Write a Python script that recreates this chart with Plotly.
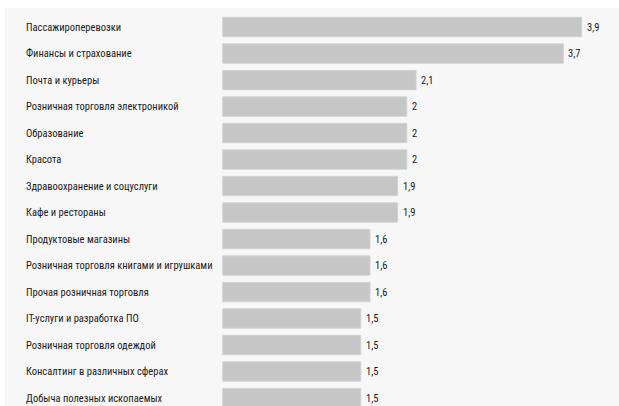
import plotly.graph_objects as go

categories = [
    "Пассажироперевозки",
    "Финансы и страхование",
    "Почта и курьеры",
    "Розничная торговля электроникой",
    "Образование",
    "Красота",
    "Здравоохранение и соцуслуги",
    "Кафе и рестораны",
    "Продуктовые магазины",
    "Розничная торговля книгами и игрушками",
    "Прочая розничная торговля",
    "IT-услуги и разработка ПО",
    "Розничная торговля одеждой",
    "Консалтинг в различных сферах",
    "Добыча полезных ископаемых",
]
values = [3.9, 3.7, 2.1, 2, 2, 2, 1.9, 1.9, 1.6, 1.6, 1.6, 1.5, 1.5, 1.5, 1.5]
value_labels = [("%g" % v).replace(".", ",") for v in values]

FONT = "Roboto Condensed, Roboto"
TXT = "#1a1a1a"

fig = go.Figure()
fig.add_trace(go.Bar(
    x=values, y=categories, orientation="h",
    marker=dict(color="#c6c6c6", line=dict(color="#d2d2d2", width=1)),
    hoverinfo="skip",
))

annotations = []
for c, v, t in zip(categories, values, value_labels):
    annotations.append(dict(
        x=0.031, xref="paper", y=c, yref="y", text=c, showarrow=False,
        xanchor="left", yanchor="middle",
        font=dict(family=FONT, size=10.5, color=TXT),
    ))
    annotations.append(dict(
        x=v, xref="x", y=c, yref="y", text=t, showarrow=False,
        xanchor="left", yanchor="middle", xshift=3,
        font=dict(family=FONT, size=10.5, color=TXT),
    ))

fig.update_layout(
    width=619, height=406,
    margin=dict(l=5, r=0, t=8, b=0, pad=0),
    paper_bgcolor="white",
    plot_bgcolor="#f7f7f7",
    bargap=0.27,
    showlegend=False,
    annotations=annotations,
    xaxis=dict(range=[-2.365, 4.305], visible=False, fixedrange=True),
    yaxis=dict(type="category", categoryorder="array", categoryarray=categories,
               range=[14.30, -0.717], visible=False, fixedrange=True),
)

fig.write_html("out.html", config={"displayModeBar": False})
